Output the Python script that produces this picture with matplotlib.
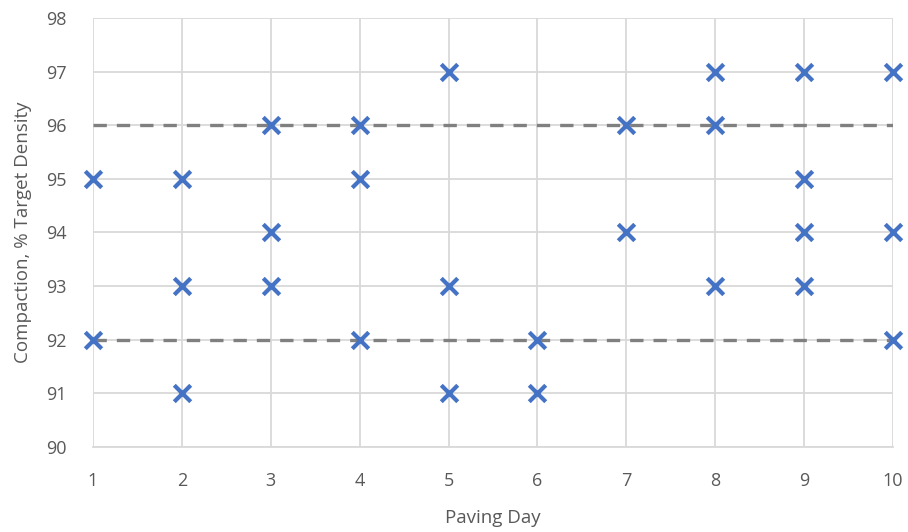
import matplotlib.pyplot as plt

# Compaction readings per paving day
days = [1, 1,
        2, 2, 2,
        3, 3, 3,
        4, 4, 4,
        5, 5, 5,
        6, 6,
        7, 7,
        8, 8, 8,
        9, 9, 9, 9,
        10, 10, 10]
compaction = [95, 92,
              95, 93, 91,
              96, 94, 93,
              96, 95, 92,
              97, 93, 91,
              92, 91,
              96, 94,
              97, 96, 93,
              97, 95, 94, 93,
              97, 94, 92]

spec_limits = [92, 96]
x_ticks = list(range(1, 11))
y_ticks = list(range(90, 99))

plt.rcParams["font.family"] = ["Open Sans", "DejaVu Sans"]

fig = plt.figure(figsize=(9.08, 5.32), dpi=100)
ax = fig.add_axes([0.1024, 0.1598, 0.881, 0.8064])

ax.set_xlim(1, 10)
ax.set_ylim(90, 98)
ax.set_xticks(x_ticks)
ax.set_yticks(y_ticks)
ax.grid(True, color="#d9d9d9", linewidth=1.3, zorder=0)
ax.set_axisbelow(True)

for s in ["top", "right", "left"]:
    ax.spines[s].set_visible(False)
ax.spines["bottom"].set_color("#d9d9d9")
ax.spines["bottom"].set_linewidth(1.3)

for lim in spec_limits:
    ax.axhline(lim, color="#808080", linewidth=2.4, linestyle=(0, (4, 3)), zorder=2)

ax.scatter(days, compaction, marker="x", s=140, linewidths=3.0,
           color="#4472c4", zorder=3, clip_on=False)

ax.tick_params(axis="both", length=0, labelsize=13, labelcolor="#595959")
ax.tick_params(axis="x", pad=18)
ax.tick_params(axis="y", pad=19)

ax.set_xlabel("Paving Day", fontsize=13.5, color="#595959", labelpad=14)
ax.set_ylabel("Compaction, % Target Density", fontsize=13.5, color="#595959", labelpad=10)

fig.savefig("out.png", dpi=100)
